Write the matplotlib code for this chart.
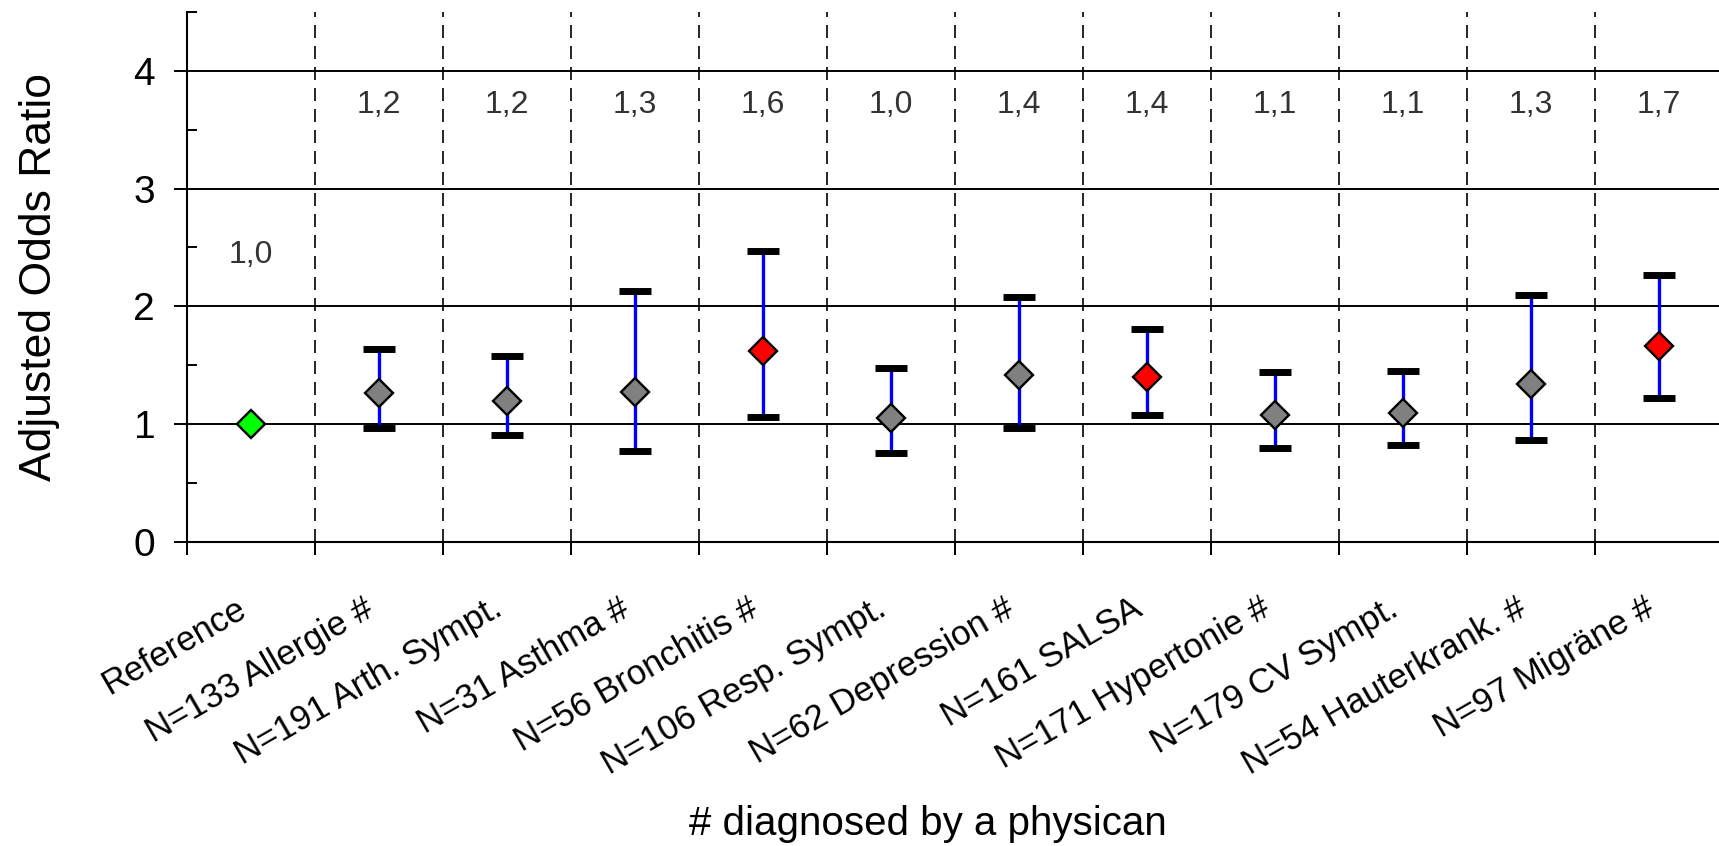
import matplotlib.pyplot as plt
import matplotlib.transforms as mtransforms

plt.rcParams['font.family'] = ['Liberation Sans', 'DejaVu Sans']

categories = ["Reference", "N=133 Allergie #", "N=191 Arth. Sympt.", "N=31 Asthma #",
              "N=56 Bronchitis #", "N=106 Resp. Sympt.", "N=62 Depression #", "N=161 SALSA",
              "N=171 Hypertonie #", "N=179 CV Sympt.", "N=54 Hauterkrank. #", "N=97 Migräne #"]
odds = [1.0, 1.26, 1.195, 1.275, 1.62, 1.054, 1.42, 1.40, 1.076, 1.09, 1.34, 1.66]
ci_low = [1.0, 0.97, 0.91, 0.77, 1.06, 0.75, 0.97, 1.076, 0.80, 0.82, 0.86, 1.22]
ci_high = [1.0, 1.635, 1.58, 2.13, 2.47, 1.48, 2.08, 1.81, 1.44, 1.45, 2.10, 2.27]
or_text = ["1,0", "1,2", "1,2", "1,3", "1,6", "1,0", "1,4", "1,4", "1,1", "1,1", "1,3", "1,7"]
colors = ["#00ff00", "#808080", "#808080", "#808080", "#ff0000", "#808080",
          "#808080", "#ff0000", "#808080", "#808080", "#808080", "#ff0000"]

x = list(range(len(categories)))
bounds = [i + 0.5 for i in range(-1, len(categories) - 1)]

fig = plt.figure(figsize=(17.19, 8.46), dpi=100)
ax = fig.add_axes([0.1088, 0.3597, 0.8936, 0.626])
ax.set_xlim(-0.5, 11.5)
ax.set_ylim(0, 4.5)

# horizontal grid and dashed category separators
for yv in [1, 2, 3, 4]:
    ax.axhline(yv, color="black", lw=1.4, zorder=1)
ax.vlines(bounds[1:], 0, 4.5, colors="black", lw=1.2, linestyles=(0, (7.8, 4.8)), zorder=1)

# confidence intervals (not for the reference)
ax.vlines(x[1:], ci_low[1:], ci_high[1:], colors="#0000ff", lw=2.4, zorder=2)
ax.plot(x[1:], ci_low[1:], ls="none", marker="_", ms=23, mew=5, color="black", zorder=3)
ax.plot(x[1:], ci_high[1:], ls="none", marker="_", ms=23, mew=5, color="black", zorder=3)

for xi, yi, c in zip(x, odds, colors):
    ax.plot(xi, yi, marker="D", ms=14.5, mfc=c, mec="black", mew=1.7, zorder=4)

for xi, t in zip(x, or_text):
    ty = 2.44 if xi == 0 else 3.71
    ax.text(xi, ty, t, ha="center", va="center", fontsize=23, color="#333333")

for s in ["top", "right"]:
    ax.spines[s].set_visible(False)
ax.spines["left"].set_linewidth(1.5)
ax.spines["bottom"].set_linewidth(1.5)

ax.set_yticks([0, 1, 2, 3, 4])
ax.set_yticks([0.5, 1.5, 2.5, 3.5, 4.5], minor=True)
ax.tick_params(axis="y", which="major", direction="out", length=9.4, width=1.4,
               labelsize=28, pad=13.5)
ax.tick_params(axis="y", which="minor", direction="in", length=7, width=1.4)

# category labels, slanted, ending just left of the category centre
ax.set_xticks([])
ax.set_xticks(bounds, minor=True)
ax.tick_params(axis="x", which="minor", direction="out", length=9.4, width=1.4)
lab_tr = ax.get_xaxis_transform() + mtransforms.ScaledTranslation(
    -0.16, -0.50, fig.dpi_scale_trans)
for xi, name in zip(x, categories):
    ax.text(xi, 0, name, transform=lab_tr, rotation=30, ha="right", va="top",
            rotation_mode="anchor", fontsize=25)

ax.set_ylabel("Adjusted Odds Ratio", fontsize=32)
ax.yaxis.set_label_coords(-0.083, 0.5)
ax.set_xlabel("# diagnosed by a physican", fontsize=29)
ax.xaxis.set_label_coords(0.4824, -0.497)

fig.savefig("out.png", dpi=100)
